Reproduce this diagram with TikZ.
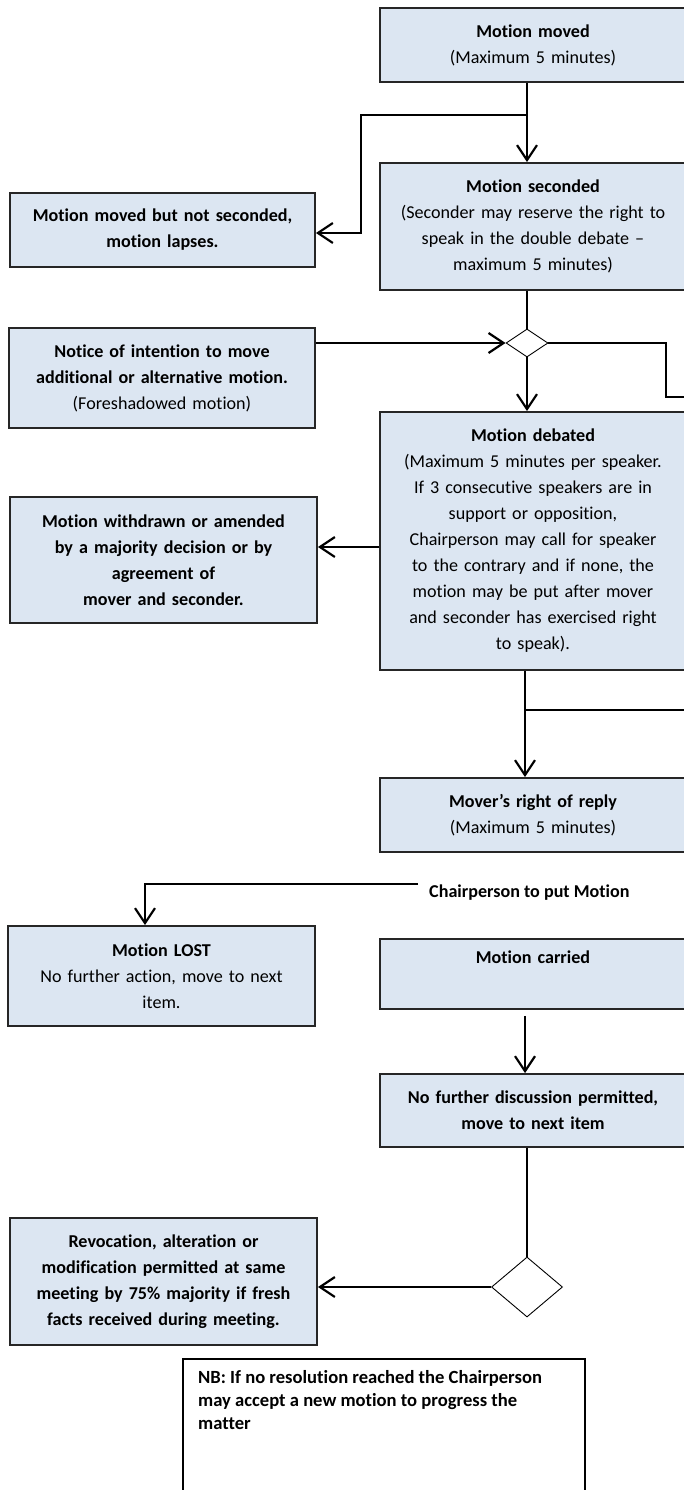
\documentclass[tikz,border=0pt]{standalone}
\usepackage{fontspec}
\setmainfont{Carlito}[Ligatures=NoCommon]
\usetikzlibrary{shapes.geometric,arrows.meta}
\definecolor{boxfill}{RGB}{220,230,242}
\tikzset{
  box/.style={rectangle, draw=black!85, line width=1.8pt, fill=boxfill, inner xsep=0pt, inner ysep=0pt,
    align=center, font=\fontsize{18.1}{26}\selectfont},
  rbox/.style={box, text width=306pt},
  dia/.style={diamond, draw=black, fill=white, line width=0.9pt, inner sep=0pt},
  conn/.style={line width=2.2pt, black},
  arr/.style={conn, -{Straight Barb[length=15pt,width=20pt]}},
  nbbox/.style={rectangle, draw=black, line width=1.6pt, fill=white, inner sep=0pt},
  plain/.style={inner sep=0pt, font=\fontsize{18.1}{26}\selectfont},
}
\begin{document}
\begin{tikzpicture}[x=1pt,y=-1pt]
\useasboundingbox (0,0) rectangle (683,1490);
\fill[white] (0,0) rectangle (683,1490);

% right column boxes
\node[rbox, minimum height=74pt] (mm) at (533,45) {\textbf{Motion moved}\\(Maximum 5 minutes)};
\node[rbox, minimum height=127pt] (ms) at (533,226.5) {\textbf{Motion seconded}\\(Seconder may reserve the right to\\speak in the double debate –\\maximum 5 minutes)};
\node[rbox, minimum height=258pt] (md) at (533,541) {\textbf{Motion debated}\\(Maximum 5 minutes per speaker.\\If 3 consecutive speakers are in\\support or opposition,\\Chairperson may call for speaker\\to the contrary and if none, the\\motion may be put after mover\\and seconder has exercised right\\to speak).};
\node[rbox, minimum height=74pt] (mrr) at (533,815) {\textbf{Mover’s right of reply}\\(Maximum 5 minutes)};
\node[rbox, minimum height=70pt] (mc) at (533,974) {\textbf{Motion carried}\\\strut};
\node[rbox, minimum height=73pt] (nfd) at (533,1110.5) {\textbf{No further discussion permitted,}\\\textbf{move to next item}};

% left column boxes
\node[box, text width=305pt, minimum height=74pt] (mns) at (162.5,230) {\textbf{Motion moved but not seconded,}\\\textbf{motion lapses.}};
\node[box, text width=306pt, minimum height=100pt] (notice) at (162,378) {\textbf{Notice of intention to move}\\\textbf{additional or alternative motion.}\\(Foreshadowed motion)};
\node[box, text width=307pt, minimum height=126pt] (mw) at (163.5,560) {\textbf{Motion withdrawn or amended}\\\textbf{by a majority decision or by}\\\textbf{agreement of}\\\textbf{mover and seconder.}};
\node[box, text width=307pt, minimum height=100pt] (mlost) at (161.5,976) {\textbf{Motion LOST}\\No further action, move to next\\item.};
\node[box, text width=307pt, minimum height=127pt] (rev) at (163.5,1281.5) {\textbf{Revocation, alteration or}\\\textbf{modification permitted at same}\\\textbf{meeting by 75\% majority if fresh}\\\textbf{facts received during meeting.}};

% diamonds
\node[dia, minimum width=42pt, minimum height=28pt] (d1) at (527,343) {};
\node[dia, minimum width=71pt, minimum height=60pt] (d2) at (527,1287) {};

% label
\node[plain, inner xsep=11pt, anchor=west] (cp) at (418,893) {\textbf{Chairperson to put Motion}};

% NB box
\node[nbbox, minimum width=402pt, minimum height=150pt, anchor=north west] (nb) at (182,1358) {};
\node[inner sep=0pt, anchor=north west, align=left, font=\fontsize{18.6}{23}\selectfont] (nbt) at (198,1370) {\textbf{NB: If no resolution reached the Chairperson}\\\textbf{may accept a new motion to progress the}\\\textbf{matter}};

% coordinates
\coordinate (sp) at (527,0);
\coordinate (sq) at (525,0);
\coordinate (b1) at (527,115);
\coordinate (b1l) at (361,233);
\coordinate (r1) at (666,397);
\coordinate (r1e) at (700,397);
\coordinate (a7) at (380,547);
\coordinate (b2) at (525,710);
\coordinate (b2e) at (700,710);
\coordinate (c2) at (145,0);

% connectors
\draw[arr] (mm.south -| sp) -- (ms.north -| sp);
\draw[arr] (b1) -| (b1l) -- (b1l -| mns.east);
\draw[conn] (ms.south -| sp) -- (d1.north);
\draw[arr] (notice.east |- d1.west) -- (d1.west);
\draw[conn] (d1.east) -| (r1) -- (r1e);
\draw[arr] (d1.south) -- (md.north -| sp);
\draw[arr] (a7 -| md.west) -- (a7 -| mw.east);
\draw[arr] (md.south -| sq) -- (mrr.north -| sq);
\draw[conn] (b2) -- (b2e);
\draw[arr] ([yshift=9pt]cp.west) -| (mlost.north -| c2);
\draw[arr] ([yshift=-6pt]mc.south -| sq) -- (nfd.north -| sq);
\draw[conn] (nfd.south -| sp) -- (d2.north);
\draw[arr] (d2.west) -- (d2.west -| rev.east);
\end{tikzpicture}
\end{document}
